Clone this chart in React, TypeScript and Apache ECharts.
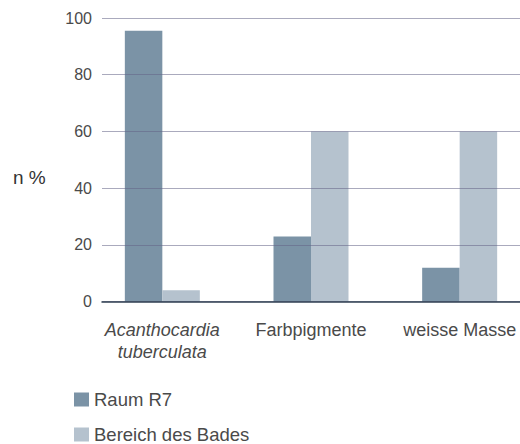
import React, { useEffect, useRef } from "react";
import * as echarts from "echarts";

const categories = ["Acanthocardia\ntuberculata", "Farbpigmente", "weisse Masse"];
const raumR7 = [95.5, 23, 12];
const bereichDesBades = [4, 60, 60];
const seriesNames = ["Raum R7", "Bereich des Bades"];
const yTicks = { min: 0, max: 100, interval: 20 };

const DARK = "#7b93a6";
const LIGHT = "#b5c2ce";
const TEXT = "#4a4a4a";
const FONT = "Liberation Sans, Arial, Helvetica, sans-serif";

const legendCommon = {
  orient: "vertical",
  left: 74,
  padding: 0,
  itemWidth: 15,
  itemHeight: 14,
  icon: "rect",
  textStyle: { fontSize: 18.5, color: TEXT, fontFamily: FONT, lineHeight: 18 },
};

export default function App() {
  const ref = useRef<HTMLDivElement>(null);
  useEffect(() => {
    const chart = echarts.init(ref.current!, null, { renderer: "svg" });
    chart.setOption({
      animation: false,
      backgroundColor: "#ffffff",
      textStyle: { fontFamily: FONT },
      grid: [
        { left: 88, right: 0, top: 18, bottom: 142.3 },
        { left: 102, right: 14, top: 18, bottom: 142.3 },
      ],
      legend: [
        { ...legendCommon, top: 390, data: [seriesNames[0]] },
        { ...legendCommon, top: 425, data: [seriesNames[1]] },
      ],
      xAxis: [
        {
          type: "category",
          gridIndex: 0,
          data: categories,
          axisLine: { show: false },
          axisTick: { show: false },
          axisLabel: {
            interval: 0,
            hideOverlap: false,
            margin: 17,
            fontSize: 18,
            color: TEXT,
            fontFamily: FONT,
            lineHeight: 22,
            formatter: (v: string) =>
              v.indexOf("\n") >= 0
                ? v.split("\n").map((s) => `{i|${s}}`).join("\n")
                : v,
            rich: {
              i: { fontStyle: "italic", fontSize: 18, color: TEXT, fontFamily: FONT, lineHeight: 22 },
            },
          },
        },
        {
          type: "value",
          gridIndex: 1,
          min: 0,
          max: 1,
          axisLine: { show: true, lineStyle: { color: "#2f3f52", width: 1.5 } },
          axisTick: { show: false },
          axisLabel: { show: false },
          splitLine: { show: false },
          z: 5,
        },
      ],
      yAxis: [
        {
          type: "value",
          gridIndex: 0,
          min: yTicks.min,
          max: yTicks.max,
          interval: yTicks.interval,
          show: false,
          splitLine: { show: false },
        },
        {
          type: "value",
          gridIndex: 1,
          min: yTicks.min,
          max: yTicks.max,
          interval: yTicks.interval,
          z: 4,
          axisLine: { show: false },
          axisTick: { show: false },
          axisLabel: { margin: 10, fontSize: 16, color: TEXT, fontFamily: FONT },
          splitLine: { show: true, lineStyle: { color: "rgba(100,100,135,0.55)", width: 1 } },
        },
      ],
      graphic: [
        {
          type: "text",
          left: 13,
          top: 168,
          style: { text: "n %", fontSize: 19, fill: "#333333", fontFamily: FONT },
        },
      ],
      series: [
        {
          name: seriesNames[0],
          type: "bar",
          xAxisIndex: 0,
          yAxisIndex: 0,
          data: raumR7,
          barWidth: 37.5,
          barGap: "0%",
          itemStyle: { color: DARK },
        },
        {
          name: seriesNames[1],
          type: "bar",
          xAxisIndex: 0,
          yAxisIndex: 0,
          data: bereichDesBades,
          barWidth: 37.5,
          barGap: "0%",
          itemStyle: { color: LIGHT },
        },
      ],
    });
    return () => chart.dispose();
  }, []);
  return (
    <div
      ref={ref}
      style={{ position: "fixed", left: 0, top: 0, width: 534, height: 444 }}
    />
  );
}
